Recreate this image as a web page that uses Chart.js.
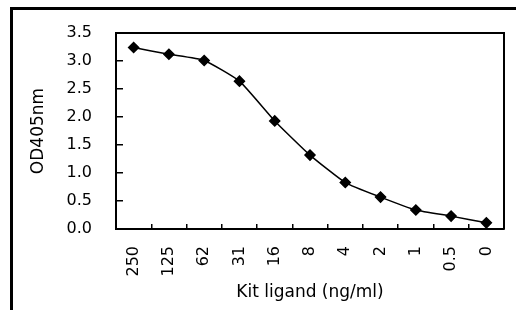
<!DOCTYPE html>
<html>
<head>
<meta charset="utf-8">
<script src="https://cdn.jsdelivr.net/npm/chart.js@4"></script>
<style>
  body { margin: 0; background: #fff; }
  #wrap { position: relative; width: 516px; height: 310px; overflow: hidden; }
  #frame { position: absolute; left: 10px; top: 7px; width: 520px; height: 320px;
           border-top: 3px solid #000; border-left: 3px solid #000; }
  canvas { position: absolute; left: 0; top: 0; }
</style>
</head>
<body>
<div id="wrap">
  <div id="frame"></div>
  <canvas id="odChart" width="516" height="310"></canvas>
</div>
<script>
const doses = ["250", "125", "62", "31", "16", "8", "4", "2", "1", "0.5", "0"];
const odValues = [3.24, 3.12, 3.01, 2.64, 1.93, 1.32, 0.83, 0.57, 0.34, 0.23, 0.11];
const yTicks = [0, 0.5, 1.0, 1.5, 2.0, 2.5, 3.0, 3.5];

const font = { family: "DejaVu Sans", size: 16 };

// box around the plot area (top and right sides)
const plotBox = {
  id: "plotBox",
  afterDraw(chart) {
    const { ctx, chartArea: a } = chart;
    ctx.save();
    ctx.strokeStyle = "#000";
    ctx.lineWidth = 2;
    ctx.beginPath();
    ctx.moveTo(a.left, a.top);
    ctx.lineTo(a.right, a.top);
    ctx.lineTo(a.right, a.bottom);
    ctx.stroke();
    ctx.restore();
  }
};

function noPad(s) {
  s.paddingLeft = 0;
  s.paddingRight = 0;
  s.paddingTop = 0;
  s.paddingBottom = 0;
}

new Chart(document.getElementById("odChart"), {
  type: "line",
  data: {
    labels: doses,
    datasets: [{
      data: odValues,
      borderColor: "#000",
      backgroundColor: "#000",
      borderWidth: 1.5,
      pointStyle: "rectRot",
      pointRadius: 5,
      tension: 0.15
    }]
  },
  options: {
    responsive: false,
    animation: false,
    layout: { padding: { left: 12, top: 33, right: 12, bottom: 0 } },
    plugins: { legend: { display: false }, tooltip: { enabled: false } },
    scales: {
      x: {
        offset: true,
        grid: { offset: true, drawOnChartArea: false, tickLength: -5, color: "#000", lineWidth: 1.5 },
        border: { color: "#000", width: 2 },
        ticks: { color: "#000", font, minRotation: 90, maxRotation: 90, padding: 22 },
        title: { display: true, text: "Kit ligand (ng/ml)", color: "#000", font: { family: "DejaVu Sans", size: 17 }, padding: { top: 0, bottom: 7 } },
        afterFit(s) { s.height = 81; noPad(s); }
      },
      y: {
        min: 0,
        max: 3.5,
        afterBuildTicks(s) { s.ticks = yTicks.map(v => ({ value: v })); },
        grid: { drawOnChartArea: false, tickLength: -7, color: "#000", lineWidth: 1.5 },
        border: { color: "#000", width: 2 },
        ticks: { color: "#000", font, padding: 31, callback: v => v.toFixed(1) },
        title: { display: true, text: "OD405nm", color: "#000", font: { family: "DejaVu Sans", size: 17 }, padding: { top: 16, bottom: 0 } },
        afterFit(s) { s.width = 104; noPad(s); }
      }
    }
  },
  plugins: [plotBox]
});
</script>
</body>
</html>
